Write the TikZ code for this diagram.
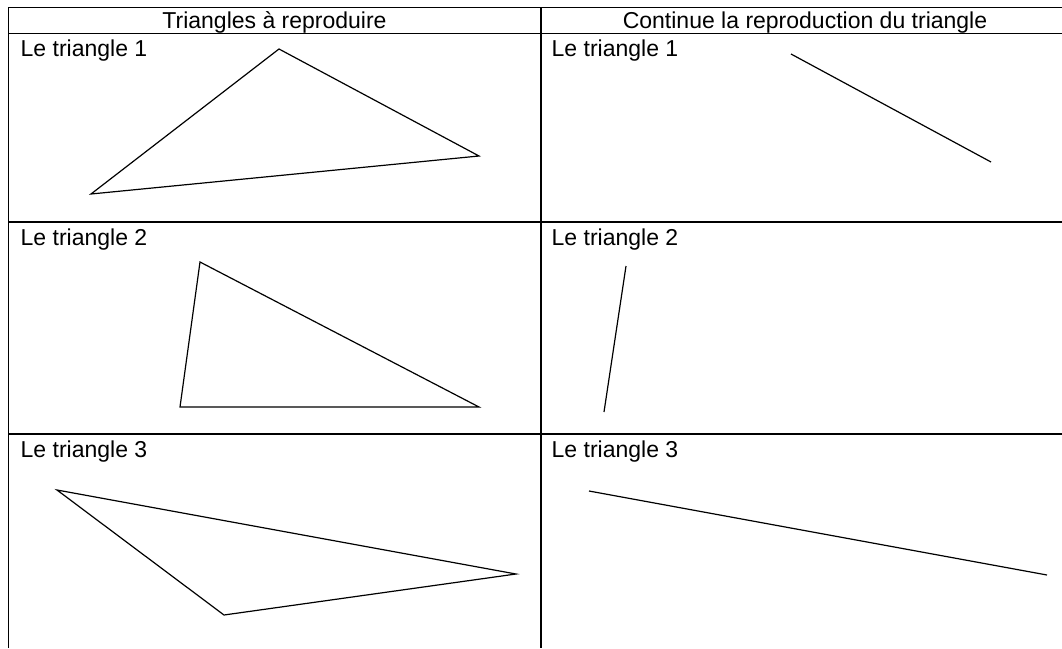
\documentclass[tikz,border=0pt]{standalone}
\usepackage{fontspec}
\setmainfont{Liberation Sans}
\usepackage{tikz}

\begin{document}
\begin{tikzpicture}[x=1pt,y=-1pt,
  grille/.style={line width=1.6pt},
  trait/.style={line width=1.2pt,line join=miter},
  titre/.style={inner sep=0pt,anchor=base,font=\fontsize{23}{26}\selectfont},
  etiq/.style={inner sep=0pt,anchor=base west,font=\fontsize{23}{26}\selectfont}]
  \useasboundingbox (0,0) rectangle (1062,648);
  % tableau
  \coordinate (hg) at (8.5,7.5);
  \coordinate (hd) at (1062,7.5);
  \coordinate (bg) at (8.5,648);
  \coordinate (hm) at (541,7.5);
  \coordinate (bm) at (541,648);
  \coordinate (l1g) at (8.5,33.5);
  \coordinate (l1d) at (1062,33.5);
  \coordinate (l2g) at (8.5,222);
  \coordinate (l2d) at (1062,222);
  \coordinate (l3g) at (8.5,434);
  \coordinate (l3d) at (1062,434);
  \draw[grille] (bg) -- (hg) -- (hd);
  \draw[grille] (hm) -- (bm);
  \draw[grille] (l1g) -- (l1d);
  \draw[grille] (l2g) -- (l2d);
  \draw[grille] (l3g) -- (l3d);
  % titres
  \node[titre] (tg) at (274.5,28) {Triangles à reproduire};
  \node[titre] (td) at (805,28) {Continue la reproduction du triangle};
  \node[etiq] (e1g) at (20.5,56) {Le triangle 1};
  \node[etiq] (e2g) at (20.5,245) {Le triangle 2};
  \node[etiq] (e3g) at (20.5,457) {Le triangle 3};
  \node[etiq] (e1d) at (551.5,56) {Le triangle 1};
  \node[etiq] (e2d) at (551.5,245) {Le triangle 2};
  \node[etiq] (e3d) at (551.5,457) {Le triangle 3};
  % triangle 1
  \coordinate (a1) at (279,49);
  \coordinate (b1) at (479,156);
  \coordinate (c1) at (91,194);
  \draw[trait] (a1) -- (b1) -- (c1) -- cycle;
  % triangle 2
  \coordinate (a2) at (200,262);
  \coordinate (b2) at (479,407);
  \coordinate (c2) at (180,407);
  \draw[trait] (a2) -- (b2) -- (c2) -- cycle;
  % triangle 3
  \coordinate (a3) at (57,490);
  \coordinate (b3) at (516,574);
  \coordinate (c3) at (224,615);
  \draw[trait] (a3) -- (b3) -- (c3) -- cycle;
  % segments a continuer
  \coordinate (s1a) at (791,54);
  \coordinate (s1b) at (991,162);
  \draw[trait] (s1a) -- (s1b);
  \coordinate (s2a) at (626,266);
  \coordinate (s2b) at (604,412);
  \draw[trait] (s2a) -- (s2b);
  \coordinate (s3a) at (589,491);
  \coordinate (s3b) at (1047,575);
  \draw[trait] (s3a) -- (s3b);
\end{tikzpicture}
\end{document}
